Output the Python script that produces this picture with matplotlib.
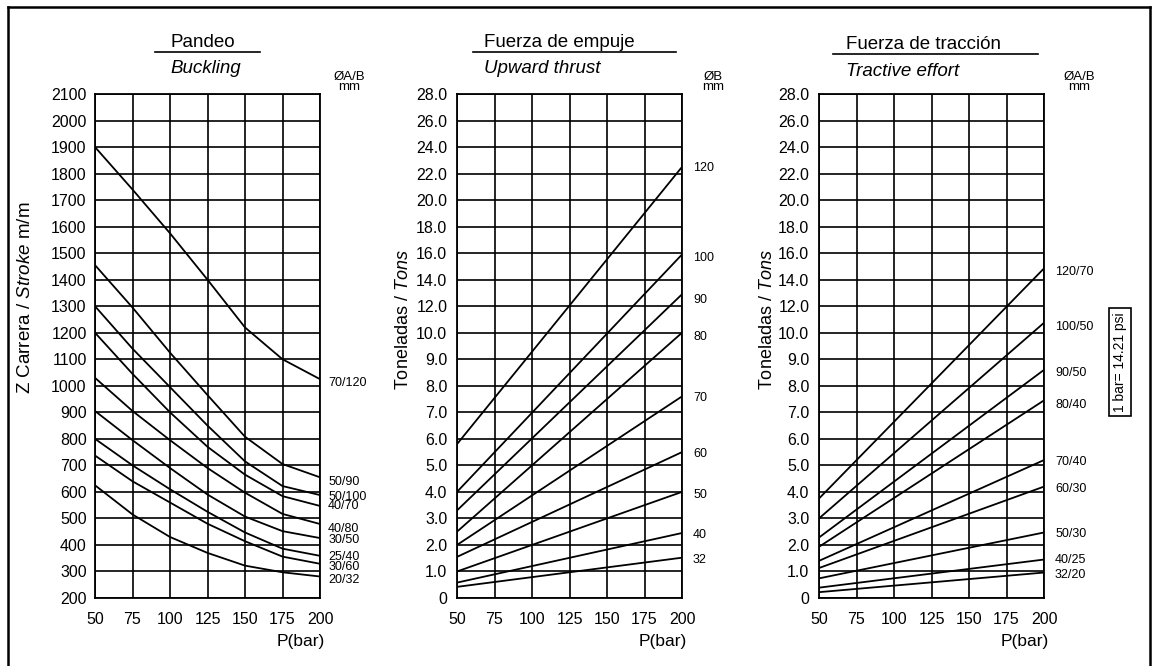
import numpy as np
import matplotlib
matplotlib.use('Agg')
import matplotlib.pyplot as plt
from matplotlib.lines import Line2D
import matplotlib.transforms as mtransforms

plt.rcParams['font.family'] = ['Liberation Sans', 'DejaVu Sans']
plt.rcParams['mathtext.fontset'] = 'custom'
plt.rcParams['mathtext.rm'] = 'Liberation Sans'
plt.rcParams['mathtext.it'] = 'Liberation Sans:italic'

# ---------------- data ----------------
pressure = [50, 75, 100, 125, 150, 175, 200]
pressure_ends = [50, 200]
pressure_ticks = [50, 75, 100, 125, 150, 175, 200]

buckling_labels = ['70/120', '50/90', '50/100', '40/70', '40/80', '30/50', '25/40', '30/60', '20/32']
buckling_values = [
    [1900, 1740, 1575, 1400, 1220, 1100, 1025],
    [1455, 1295, 1125, 965, 808, 705, 655],
    [1300, 1140, 995, 850, 715, 622, 588],
    [1200, 1045, 900, 770, 665, 584, 547],
    [1030, 905, 795, 690, 597, 517, 479],
    [905, 795, 690, 590, 507, 452, 426],
    [800, 700, 610, 525, 447, 386, 359],
    [737, 640, 560, 480, 414, 356, 329],
    [625, 515, 430, 370, 322, 297, 281],
]
buckling_label_pos = [1011, 638, 582, 545, 462, 417, 353, 315, 268]
buckling_ticks = list(range(200, 2101, 100))

thrust_labels = ['120', '100', '90', '80', '70', '60', '50', '40', '32']
thrust_start = [5.8, 4.0, 3.3, 2.5, 2.0, 1.55, 1.0, 0.58, 0.42]
thrust_end = [22.5, 15.9, 12.9, 10.0, 7.6, 5.5, 4.0, 2.45, 1.52]
thrust_label_pos = [22.45, 15.66, 12.5, 9.85, 7.55, 5.43, 3.89, 2.38, 1.43]

tractive_labels = ['120/70', '100/50', '90/50', '80/40', '70/40', '60/30', '50/30', '40/25', '32/20']
tractive_start = [3.75, 3.0, 2.28, 1.93, 1.4, 1.13, 0.74, 0.39, 0.22]
tractive_end = [14.85, 10.75, 8.6, 7.45, 5.2, 4.2, 2.47, 1.45, 0.96]
tractive_label_pos = [14.6, 10.45, 8.49, 7.28, 5.13, 4.11, 2.42, 1.43, 0.87]

ton_ticks = [0, 1, 2, 3, 4, 5, 6, 7, 8, 9, 10, 12, 14, 16, 18, 20, 22, 24, 26, 28]
ton_tick_labels = ['0'] + ['%.1f' % v for v in ton_ticks[1:]]


# chart scale of the tonnage axes: 1.0 per division up to 10, 2.0 above
def ton_scale(y):
    y = np.asarray(y, dtype=float)
    return np.where(y <= 10, y, 10 + (y - 10) / 2.0)


# ---------------- layout ----------------
W, H = 1153, 666
fig = plt.figure(figsize=(W / 100, H / 100), dpi=100)


def fx(x):
    return x / W


def fy(y):
    return 1 - y / H


ax_left_px = [95, 457, 819]
ax_w_px = 225
ax_top_px, ax_bot_px = 94, 598


def make_ax(i):
    return fig.add_axes([fx(ax_left_px[i]), fy(ax_bot_px),
                         ax_w_px / W, (ax_bot_px - ax_top_px) / H])


LW = 1.3
tick_fs = 11.5
lab_fs = 9


def style(ax, ypad):
    ax.set_xlim(50, 200)
    ax.set_xticks(pressure_ticks)
    ax.set_xticklabels([str(v) for v in pressure_ticks])
    ax.grid(True, color='black', linewidth=1.2)
    ax.set_axisbelow(True)
    for s in ax.spines.values():
        s.set_linewidth(1.3)
        s.set_color('black')
    ax.tick_params(axis='both', length=0, labelsize=tick_fs, colors='black')
    ax.tick_params(axis='x', pad=10)
    ax.tick_params(axis='y', pad=ypad)
    ax.text(1.022, -0.087, 'P(bar)', transform=ax.transAxes, ha='right',
            va='center', fontsize=12.5)


def side_labels(ax, xpos, labels, positions):
    tr = mtransforms.blended_transform_factory(ax.transAxes, ax.transData)
    for lab, pos in zip(labels, positions):
        ax.text(xpos, pos, lab, transform=tr, fontsize=lab_fs, va='center',
                ha='left')


# ---- Panel 1: buckling ----
ax1 = make_ax(0)
for vals in buckling_values:
    ax1.plot(pressure, vals, color='black', lw=LW)
ax1.set_ylim(200, 2100)
ax1.set_yticks(buckling_ticks)
ax1.set_yticklabels([str(v) for v in buckling_ticks])
style(ax1, 6)
side_labels(ax1, 1.036, buckling_labels, buckling_label_pos)

# ---- Panel 2: upward thrust ----
ax2 = make_ax(1)
for a, b in zip(thrust_start, thrust_end):
    ax2.plot(pressure_ends, ton_scale([a, b]), color='black', lw=LW)
ax2.set_ylim(0, float(ton_scale(28)))
ax2.set_yticks(ton_scale(ton_ticks))
ax2.set_yticklabels(ton_tick_labels)
style(ax2, 7)
side_labels(ax2, 1.049, thrust_labels, ton_scale(thrust_label_pos))

# ---- Panel 3: tractive effort ----
ax3 = make_ax(2)
for a, b in zip(tractive_start, tractive_end):
    ax3.plot(pressure_ends, ton_scale([a, b]), color='black', lw=LW)
ax3.set_ylim(0, float(ton_scale(28)))
ax3.set_yticks(ton_scale(ton_ticks))
ax3.set_yticklabels(ton_tick_labels)
style(ax3, 7)
side_labels(ax3, 1.049, tractive_labels, ton_scale(tractive_label_pos))

# ---- titles ----
title_fs = 13.5
titles = [
    ('Pandeo', 'Buckling', 170, 47, 73, (155, 260), 52),
    ('Fuerza de empuje', 'Upward thrust', 484, 47, 73, (473, 676), 52),
    ('Fuerza de tracción', 'Tractive effort', 846, 49, 76, (833, 1038), 53.5),
]
for top, bot, x0, yb1, yb2, (u0, u1), uy in titles:
    fig.text(fx(x0), fy(yb1), top, fontsize=title_fs, ha='left', va='baseline')
    fig.text(fx(x0), fy(yb2), bot, fontsize=title_fs, ha='left', va='baseline',
             style='italic')
    fig.add_artist(Line2D([fx(u0), fx(u1)], [fy(uy), fy(uy)], color='black',
                          lw=1.2, transform=fig.transFigure))

heads = [('ØA/B', 349), ('ØB', 713), ('ØA/B', 1079)]
for h, xh in heads:
    fig.text(fx(xh), fy(82), h + '\nmm', fontsize=9.5, ha='center',
             va='center', multialignment='center', linespacing=0.78)

# ---- axis labels ----
fig.text(fx(26), fy(298), r'Z Carrera / $\it{Stroke}$ m/m', rotation=90,
         fontsize=13.5, ha='center', va='center')
fig.text(fx(404), fy(320), r'Toneladas / $\it{Tons}$', rotation=90,
         fontsize=13, ha='center', va='center')
fig.text(fx(767), fy(320), r'Toneladas / $\it{Tons}$', rotation=90,
         fontsize=13, ha='center', va='center')

# ---- conversion box ----
fig.text(fx(1120), fy(362), '1 bar= 14.21 psi', rotation=90, fontsize=10,
         ha='center', va='center',
         bbox=dict(boxstyle='square,pad=0.3', fc='white', ec='black', lw=1.2))

# ---- outer frame ----
for xs, ys in [([8, 8], [7, 670]), ([8, 1150], [7, 7]), ([1150, 1150], [7, 670])]:
    fig.add_artist(Line2D([fx(v) for v in xs], [fy(v) for v in ys],
                          color='black', lw=1.8, transform=fig.transFigure))

fig.savefig('out.png', dpi=100)
